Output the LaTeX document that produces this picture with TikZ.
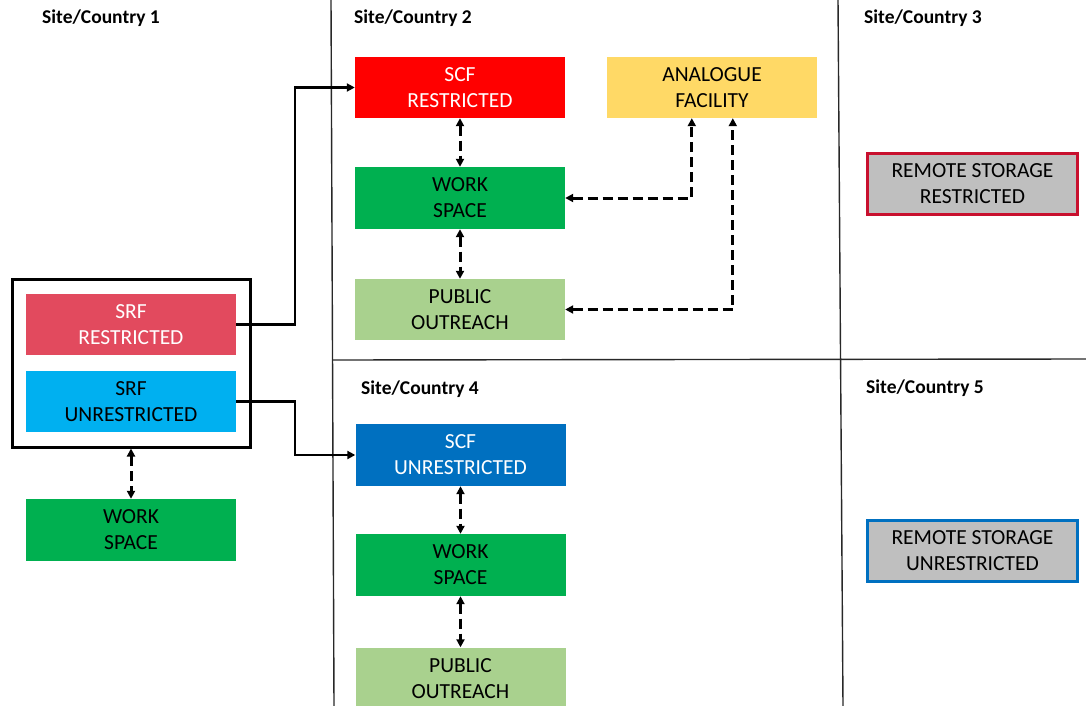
\documentclass[tikz,border=0pt]{standalone}
\usepackage{fontspec}
\setmainfont{Carlito}
\usetikzlibrary{arrows.meta,calc}
\definecolor{srfred}{RGB}{226,74,94}
\definecolor{srfblue}{RGB}{0,176,240}
\definecolor{scfred}{RGB}{255,0,0}
\definecolor{scfblue}{RGB}{0,112,192}
\definecolor{workgreen}{RGB}{0,176,80}
\definecolor{pubgreen}{RGB}{169,209,142}
\definecolor{analyellow}{RGB}{255,217,102}
\definecolor{storegray}{RGB}{191,191,191}
\definecolor{storered}{RGB}{200,16,46}
\definecolor{divider}{RGB}{40,40,40}
\tikzset{
  facility/.style={minimum width=210pt, minimum height=61pt, inner sep=0pt,
    align=center, font=\fontsize{21.5}{26}\selectfont, text=black},
  whitetext/.style={text=white},
  storage/.style={facility, minimum width=210pt, minimum height=61pt,
    fill=storegray, line width=3pt},
  sitetitle/.style={anchor=base west, inner sep=0pt,
    font=\fontsize{19.5}{23}\selectfont\bfseries},
  divline/.style={draw=divider, line width=1.4pt},
  link/.style={line width=2.5pt, -{Triangle[length=8pt,width=8pt]}},
  duallink/.style={line width=3pt, dash pattern=on 10pt off 5pt,
    {Triangle[length=8pt,width=8pt]}-{Triangle[length=8pt,width=8pt]}},
}
\begin{document}
\begin{tikzpicture}[x=1pt,y=-1pt]
\useasboundingbox (0,0) rectangle (1086,706);
\begin{scope}
\clip (0,0) rectangle (1086,706);

% site dividers
\draw[divline] (331,0) -- (334,706);
\draw[divline] (838,0) -- (843,706);
\draw[divline] (333,360) -- (1086,359);

% site titles
\node[sitetitle] (t1) at (42,24) {Site/Country 1};
\node[sitetitle] (t2) at (354,24) {Site/Country 2};
\node[sitetitle] (t3) at (864,24) {Site/Country 3};
\node[sitetitle] (t4) at (361,394) {Site/Country 4};
\node[sitetitle] (t5) at (866,393) {Site/Country 5};

% site 1
\node[draw=black, line width=3pt, minimum width=238pt, minimum height=168pt,
  inner sep=0pt] (grp) at (131,363) {};
\node[facility, whitetext, fill=srfred] (srfR) at (131,324.5) {SRF\\RESTRICTED};
\node[facility, fill=srfblue] (srfU) at (131,401.5) {SRF\\UNRESTRICTED};
\node[facility, fill=workgreen, minimum height=62pt] (work1) at (131,530) {WORK\\SPACE};

% site 2
\node[facility, whitetext, fill=scfred] (scfR) at (460,87.5) {SCF\\RESTRICTED};
\node[facility, fill=workgreen, minimum height=62pt] (work2) at (460,198) {WORK\\SPACE};
\node[facility, fill=pubgreen] (pub2) at (460,309.5) {PUBLIC\\OUTREACH};
\node[facility, fill=analyellow] (anal) at (712,87.5) {ANALOGUE\\FACILITY};

% site 3
\node[storage, draw=storered, minimum width=210pt] (rsR) at (972.5,184) {REMOTE STORAGE\\RESTRICTED};

% site 4
\node[facility, whitetext, fill=scfblue, minimum height=62pt] (scfU) at (460.5,455) {SCF\\UNRESTRICTED};
\node[facility, fill=workgreen, minimum height=62pt] (work4) at (460.5,565) {WORK\\SPACE};
\node[facility, fill=pubgreen, minimum height=62pt] (pub4) at (460.5,678.5) {PUBLIC\\OUTREACH};

% site 5
\node[storage, draw=scfblue] (rsU) at (972.5,551) {REMOTE STORAGE\\UNRESTRICTED};

% transfers between sites
\draw[link] (srfR.east) -- ++(59,0) |- (scfR.west);
\draw[link] (srfU.east) -- ++(59,0) |- (scfU.west);

% two-way exchanges within sites
\draw[duallink] (grp.south) -- (work1.north);
\draw[duallink] (scfR.south) -- (work2.north);
\draw[duallink] (work2.south) -- (pub2.north);
\draw[duallink] (scfU.south) -- (work4.north);
\draw[duallink] (work4.south) -- (pub4.north);
\draw[duallink] (work2.east) -| ($(anal.south west)+(85,0)$);
\draw[duallink] (pub2.east) -| ($(anal.south west)+(126,0)$);
\end{scope}
\end{tikzpicture}
\end{document}
